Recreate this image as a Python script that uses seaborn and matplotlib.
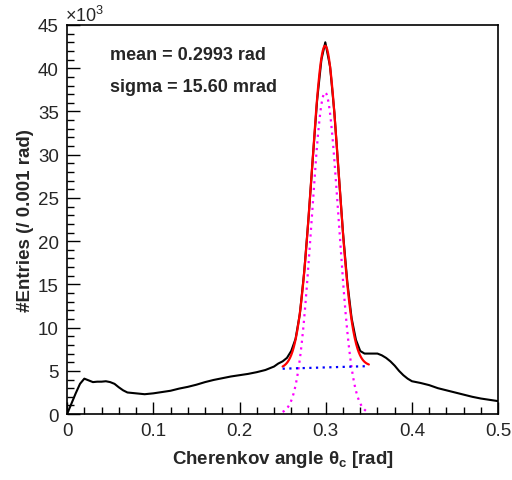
import numpy as np
import pandas as pd
import matplotlib
matplotlib.use("Agg")
import matplotlib.pyplot as plt
from matplotlib.ticker import MultipleLocator
import seaborn as sns

# Histogram of reconstructed Cherenkov angle (entries in units of 10^3 per 0.001 rad)
theta = [0.000, 0.005, 0.010, 0.015, 0.020, 0.025, 0.030, 0.035, 0.040, 0.045,
         0.050, 0.055, 0.060, 0.065, 0.070, 0.080, 0.090, 0.100, 0.110, 0.120,
         0.130, 0.140, 0.150, 0.160, 0.170, 0.180, 0.190, 0.200, 0.210, 0.220,
         0.230, 0.240, 0.245, 0.250, 0.255, 0.260, 0.265, 0.270, 0.275, 0.280,
         0.285, 0.290, 0.295, 0.2995, 0.305, 0.310, 0.315, 0.320, 0.325, 0.330,
         0.335, 0.340, 0.345, 0.350, 0.355, 0.360, 0.365, 0.370, 0.375, 0.380,
         0.385, 0.390, 0.395, 0.400, 0.410, 0.420, 0.430, 0.440, 0.450, 0.460,
         0.470, 0.480, 0.490, 0.500]
entries = [0.0, 1.2, 2.4, 3.5, 4.1, 3.9, 3.7, 3.75, 3.75, 3.8,
           3.7, 3.5, 3.1, 2.75, 2.5, 2.4, 2.3, 2.4, 2.55, 2.7,
           2.95, 3.15, 3.4, 3.7, 3.95, 4.15, 4.35, 4.5, 4.65, 4.85,
           5.1, 5.5, 5.85, 6.1, 6.5, 7.3, 8.7, 11.6, 16.4, 22.6,
           29.6, 36.3, 41.0, 43.0, 40.2, 34.9, 27.9, 21.0, 15.3, 11.1,
           8.6, 7.3, 7.0, 7.0, 7.0, 7.0, 6.8, 6.5, 6.1, 5.6,
           5.0, 4.5, 4.1, 3.8, 3.6, 3.35, 3.0, 2.75, 2.5, 2.25,
           2.0, 1.8, 1.65, 1.5]

# fit results (gaussian + linear background over the fit range)
fit_range = [0.25, 0.35]
g_mean = 0.2993
g_sigma = 0.01560
g_amp = 37.2
bkg_ends = [5.25, 5.55]

sns.set_theme(style="white")
plt.rcParams['font.family'] = ['Liberation Sans', 'DejaVu Sans']
plt.rcParams['mathtext.fontset'] = 'custom'
plt.rcParams['mathtext.rm'] = 'Liberation Sans:bold'
plt.rcParams['mathtext.it'] = 'Liberation Sans:bold'
plt.rcParams['mathtext.bf'] = 'Liberation Sans:bold'

df = pd.DataFrame({"theta": theta, "entries": entries})
xf = np.linspace(fit_range[0], fit_range[1], 300)
bkg = np.interp(xf, fit_range, bkg_ends)
gaus = g_amp * np.exp(-0.5 * ((xf - g_mean) / g_sigma) ** 2)
fits = pd.DataFrame({"theta": xf, "gaus": gaus, "bkg": bkg, "total": gaus + bkg})

fig = plt.figure(figsize=(5.12, 4.81), dpi=100)
ax = fig.add_axes([0.131, 0.137, 0.842, 0.809])

sns.lineplot(data=df, x="theta", y="entries", color="black", lw=1.5, sort=False, ax=ax)
sns.lineplot(data=fits, x="theta", y="total", color="red", lw=1.6, ax=ax)
sns.lineplot(data=fits, x="theta", y="gaus", color="magenta", lw=1.6, ax=ax,
             linestyle=(0, (1, 2)))
sns.lineplot(data=fits, x="theta", y="bkg", color="blue", lw=1.6, ax=ax,
             linestyle=(0, (1, 2)))

ax.set_xlim(0, 0.5)
ax.set_ylim(0, 45)
ax.xaxis.set_major_locator(MultipleLocator(0.1))
ax.xaxis.set_minor_locator(MultipleLocator(0.02))
ax.yaxis.set_major_locator(MultipleLocator(5))
ax.yaxis.set_minor_locator(MultipleLocator(1))
ax.xaxis.set_major_formatter(plt.FuncFormatter(lambda v, p: "0" if v == 0 else f"{v:.1f}"))
ax.tick_params(which="both", direction="in", bottom=True, left=True, top=False,
               right=False, color="black", width=1.0, labelsize=13.5, pad=6)
ax.tick_params(which="major", length=9)
ax.tick_params(which="minor", length=5)
for s in ax.spines.values():
    s.set_color("black")
    s.set_linewidth(1.2)

ax.set_xlabel(r"Cherenkov angle $\theta_c$ [rad]", fontsize=13.5, fontweight="bold", labelpad=6)
ax.set_ylabel("#Entries (/ 0.001 rad)", fontsize=13.5, fontweight="bold", labelpad=3)

ax.text(-0.005, 1.0, r"$\mathregular{\times10^{3}}$", transform=ax.transAxes,
        fontsize=13, ha="left", va="bottom")
ax.text(0.10, 0.925, "mean = 0.2993 rad", transform=ax.transAxes,
        fontsize=13, fontweight="bold", ha="left", va="center")
ax.text(0.10, 0.843, "sigma = 15.60 mrad", transform=ax.transAxes,
        fontsize=13, fontweight="bold", ha="left", va="center")

fig.savefig("out.png", dpi=100)
